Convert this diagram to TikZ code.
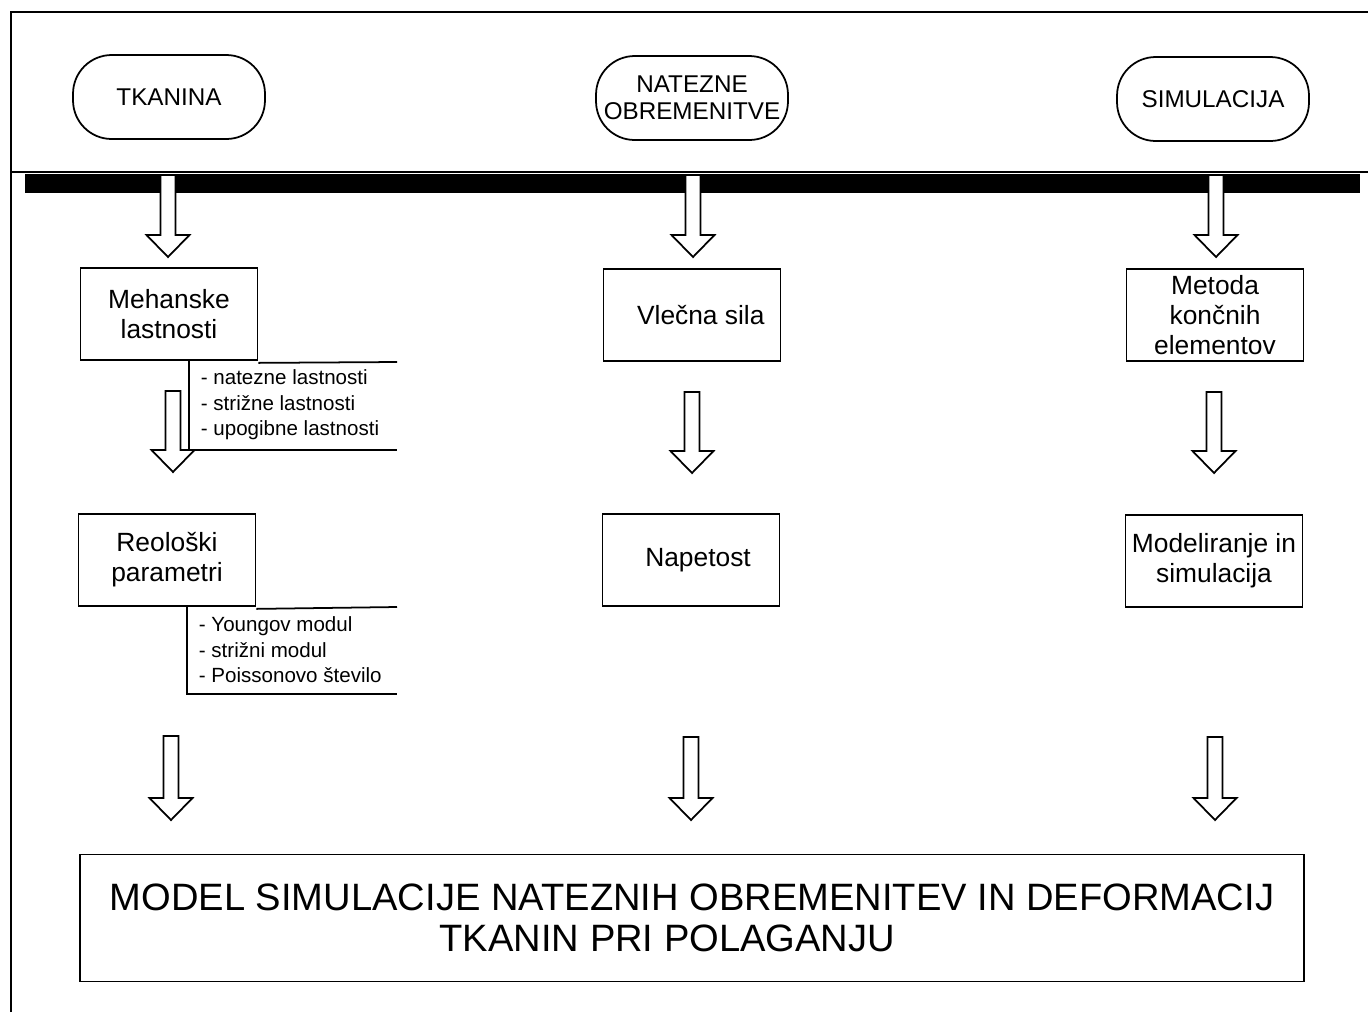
\documentclass[tikz,border=0pt]{standalone}
\usepackage{fontspec}
\setmainfont{Liberation Sans}
\usepackage{tikz}
\usetikzlibrary{positioning,calc}
\tikzstyle{term}=[draw, rounded corners=22pt, minimum width=3.84cm, minimum height=1.68cm, align=center, font=\fontsize{13.8}{15.5}\selectfont]
\tikzstyle{stage}=[draw, minimum width=3.54cm, minimum height=1.84cm, align=center, font=\fontsize{15}{17}\selectfont]
\tikzstyle{notes}=[anchor=west, align=left, inner sep=0pt, font=\fontsize{11.7}{14.5}\selectfont]
% hollow block arrow: x, top, tip
\newcommand{\hollowdown}[3]{%
\draw[fill=white] (#1-7.5,#2) -- (#1+7.5,#2) -- (#1+7.5,#3-22) -- (#1+21.5,#3-22) -- (#1,#3) -- (#1-21.5,#3-22) -- (#1-7.5,#3-22) -- cycle;}

\begin{document}
\begin{tikzpicture}[x=0.02cm,y=-0.02cm,line width=1pt]
\useasboundingbox (0,0) rectangle (1368,1012);
\draw (11,1012) -- (11,12) -- (1368,12);
\draw (11,172) -- (1368,172);
\fill (25,174) rectangle (1360,193);

\node (tkanina) at (169,97)[term] {TKANINA};
\node (natezne) at (692,98)[term] {NATEZNE\\OBREMENITVE};
\node (simul) at (1213,99)[term] {SIMULACIJA};

\node (meh) at (169,314)[stage] {Mehanske\\lastnosti};
\node (vlecna) at (692,315)[stage] {\hspace{10pt}Vlečna sila};
\node (metoda) at (1215,315)[stage] {Metoda\\končnih\\elementov};

\node (reol) at (167,560)[stage] {Reološki\\parametri};
\node (napet) at (691,560)[stage] {\hspace{8pt}Napetost};
\node (model) at (1214,561)[stage] {Modeliranje in\\simulacija};

\node (lastn) at (200,405)[notes] {- natezne lastnosti\\- strižne lastnosti\\- upogibne lastnosti};
\draw (meh.south east) ++(0,2) -- (397,362);
\draw (189,360) -- (189,450) -- (397,450);

\node (param) at (198,650)[notes] {- Youngov modul\\- strižni modul\\- Poissonovo število};
\draw (reol.south east) ++(0,2) -- (397,607);
\draw (187,605) -- (187,694) -- (397,694);

\hollowdown{168}{175}{257}
\hollowdown{693}{175}{257}
\hollowdown{1216}{175}{257}

\hollowdown{173}{391}{472}
\hollowdown{692}{392}{473}
\hollowdown{1214}{392}{473}

\hollowdown{171}{736}{820}
\hollowdown{691}{737}{820}
\hollowdown{1215}{737}{820}

\node (sklep) at (692,918)[draw, minimum width=24.48cm, minimum height=2.54cm, align=center, font=\fontsize{21.7}{23.5}\selectfont] {MODEL SIMULACIJE NATEZNIH OBREMENITEV IN DEFORMACIJ\\TKANIN PRI POLAGANJU\hspace{28pt}\mbox{}};
\end{tikzpicture}
\end{document}
